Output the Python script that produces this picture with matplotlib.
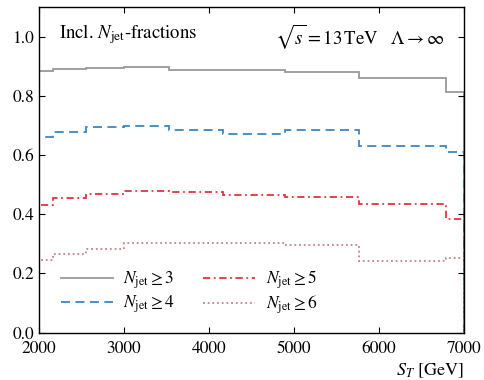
import numpy as np
import matplotlib
matplotlib.use('Agg')
import matplotlib.pyplot as plt

plt.rcParams['font.family'] = ['STIXGeneral', 'DejaVu Serif']
plt.rcParams['mathtext.fontset'] = 'stix'

# S_T bin edges in GeV
edges = [2000, 2164, 2548, 3000, 3532, 4159, 4897, 5767, 6790, 7000]

# inclusive jet multiplicity fractions per bin
frac_3 = [0.884, 0.890, 0.893, 0.897, 0.888, 0.888, 0.882, 0.859, 0.814]
frac_4 = [0.662, 0.679, 0.696, 0.697, 0.685, 0.672, 0.685, 0.632, 0.609]
frac_5 = [0.431, 0.454, 0.469, 0.479, 0.476, 0.466, 0.459, 0.435, 0.383]
frac_6 = [0.246, 0.266, 0.283, 0.302, 0.302, 0.304, 0.295, 0.242, 0.253]

labels = [r'$N_{\mathrm{jet}} \geq 3$', r'$N_{\mathrm{jet}} \geq 4$',
          r'$N_{\mathrm{jet}} \geq 5$', r'$N_{\mathrm{jet}} \geq 6$']
colors = ['#999999', '#3a87c5', '#e3343c', '#c48484']
styles = ['-', (0, (5, 3)), (0, (4, 2, 1, 2)), (0, (1, 1.6))]

fig = plt.figure(figsize=(4.84, 3.80), dpi=100)
ax = fig.add_axes([0.0806, 0.1245, 0.878, 0.857])

for vals, lab, c, ls in zip([frac_3, frac_4, frac_5, frac_6], labels, colors, styles):
    ax.stairs(vals, edges, color=c, linestyle=ls, linewidth=1.3, label=lab)

ax.set_xlim(2000, 7000)
ax.set_ylim(0.0, 1.1)
ax.set_xticks([2000, 3000, 4000, 5000, 6000, 7000])
ax.set_yticks([0.0, 0.2, 0.4, 0.6, 0.8, 1.0])
ax.yaxis.set_major_formatter(matplotlib.ticker.FormatStrFormatter('%.1f'))
ax.tick_params(direction='in', top=True, right=True, length=4, labelsize=12.5)
ax.tick_params(axis='x', pad=6)
for s in ax.spines.values():
    s.set_linewidth(1.0)

ax.set_xlabel(r'$S_T$ [GeV]', fontsize=13, loc='right', labelpad=3)

ax.text(0.047, 0.955, r'Incl. $N_{\mathrm{jet}}$-fractions', transform=ax.transAxes,
        fontsize=13.5, va='top', ha='left')
ax.text(0.955, 0.955, r'$\sqrt{s} = 13\,\mathrm{TeV}\quad \Lambda \rightarrow \infty$',
        transform=ax.transAxes, fontsize=13.5, va='top', ha='right')

ax.legend(ncol=2, loc='lower left', bbox_to_anchor=(0.027, 0.018), frameon=False,
          fontsize=12.5, handlelength=3.0, handletextpad=0.6, columnspacing=1.6,
          labelspacing=0.15, borderaxespad=0.2)

fig.savefig('out.png', dpi=100)
